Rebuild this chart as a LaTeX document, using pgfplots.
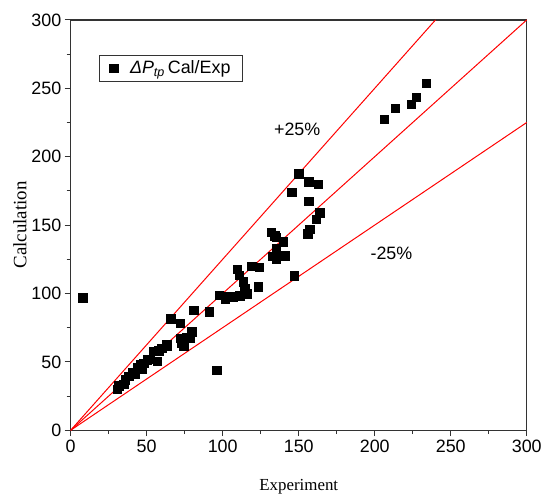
\documentclass[border=0pt]{standalone}
\usepackage{fontspec}
\setmainfont{Liberation Sans}
\newfontfamily\timesfont{Liberation Serif}
\usepackage{pgfplots}
\pgfplotsset{compat=1.18}

\begin{document}
\begin{tikzpicture}
\begin{axis}[
  width=459pt, height=413pt, scale only axis,
  xmin=0, xmax=300, ymin=0, ymax=300,
  xtick={0,50,...,300}, ytick={0,50,...,300},
  minor x tick num=1, minor y tick num=1,
  tick align=outside, xtick pos=left, ytick pos=left,
  major tick length=6pt, minor tick length=4pt,
  axis line style={line width=1.3pt, black!80},
  every tick/.style={line width=1.1pt, black!80},
  ticklabel style={font=\fontsize{18}{20}\selectfont},
  /pgf/number format/assume math mode=true,
  xlabel={\timesfont\fontsize{17}{19}\selectfont Experiment},
  ylabel={\timesfont\fontsize{19}{21}\selectfont Calculation},
  xlabel style={yshift=-20pt},
  ylabel style={yshift=-2pt},
  legend style={at={(0.063,0.915)}, anchor=north west, draw=black!80,
    font=\fontsize{18}{20}\selectfont, inner xsep=10pt, inner ysep=4pt},
  legend cell align=left,
]
\addplot[red, line width=1pt, forget plot] coordinates {(0,0) (300,300)};
\addplot[red, line width=1pt, forget plot] coordinates {(0,0) (240,300)};
\addplot[red, line width=1pt, forget plot] coordinates {(0,0) (300,225)};
\addplot[only marks, mark=square*, mark size=4.3pt, black] coordinates {
(8,97) (96,44)
(30.6,30) (31.6,32.4) (34.9,33.6) (36,37) (38.2,39.6) (40.4,42) (42,41)
(43.7,45.7) (45.8,48) (47,45) (48,49) (50.2,51.7) (52,52) (54.6,57.7)
(56.8,50.5) (58,58) (60,60.1) (63.3,62.5) (63.3,61.4) (65.9,81.4)
(72,78.3) (72,67.4) (73.1,63.8) (74.2,61.4) (76,68) (78.6,67.4) (79.7,72.2)
(80.8,87.9) (91,86.7) (97.6,98.8) (101.5,95.7) (104,98) (107,97.6)
(109.6,117.6) (110.9,113.3) (111.3,98.3) (113.5,108.5) (114.6,103.6)
(114.6,99.3) (116,100) (119,119.8) (123.3,104.8) (124,119.3)
(132,144.7) (132.7,127.3) (134.2,142.2) (135.3,141) (135.3,132.6)
(135.3,125.4) (139.7,137.9) (140.8,127.8) (145.2,174.1) (146.9,112.8)
(150,187.5) (156,143.5) (157.2,147.1) (156.5,181.7) (156.5,167.6)
(161.5,154.3) (162.9,180) (163.7,159.2)
(206.3,227.5) (213.5,235.5) (224,238.4) (227.2,243.5) (233.8,253.6)
};
\addlegendentry{\hspace{10pt}\textit{ΔP}\textsubscript{\textit{tp}}\,Cal/Exp}
\node[font=\fontsize{18}{20}\selectfont] at (axis cs:149,220) {+25\%};
\node[font=\fontsize{18}{20}\selectfont] at (axis cs:211,129) {-25\%};
\end{axis}
\path ([yshift=20pt]current axis.north);
\path ([xshift=-10pt]current axis.outer west);
\end{tikzpicture}
\end{document}
